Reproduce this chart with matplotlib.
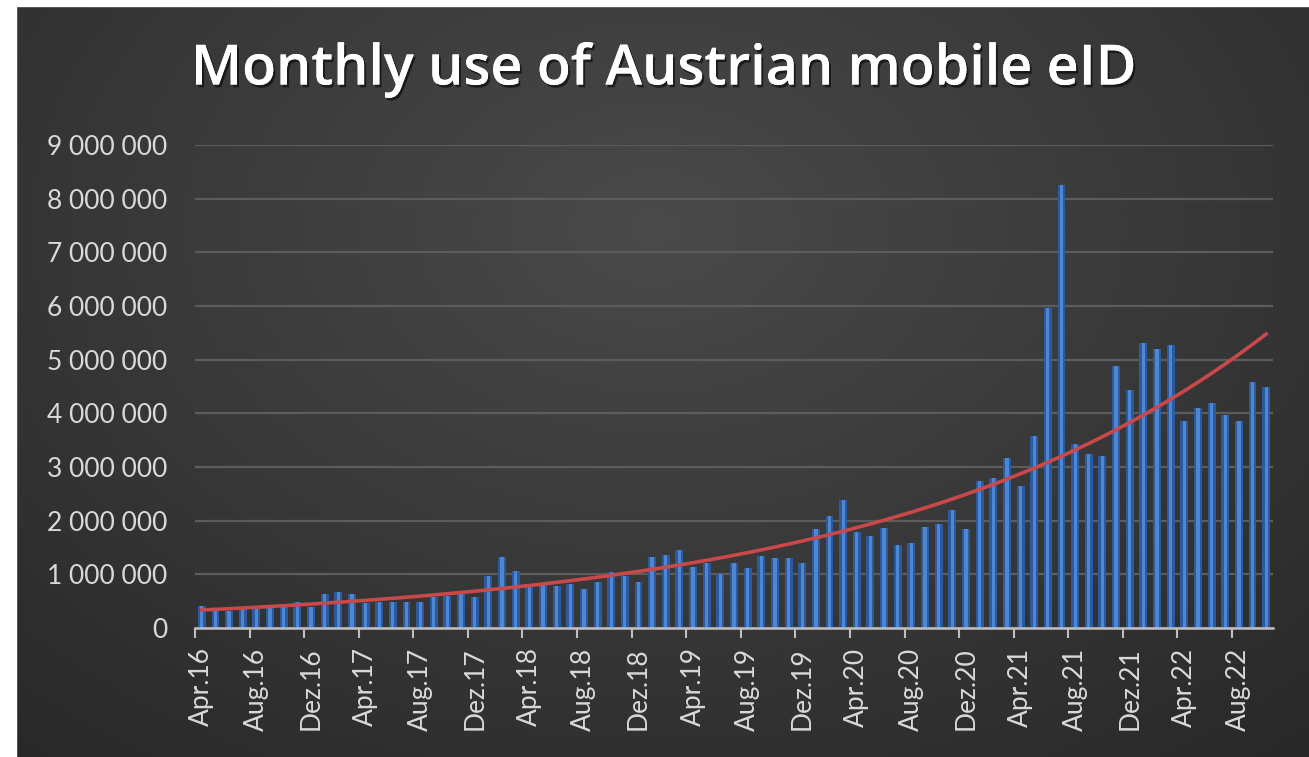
import numpy as np
import matplotlib
matplotlib.use("Agg")
import matplotlib.pyplot as plt
import matplotlib.patheffects as pe
from matplotlib.patches import Rectangle
from matplotlib.ticker import FuncFormatter

# Monthly logins, Apr.16 .. Oct.22
MONTHS = ["Jan", "Feb", "Mär", "Apr", "Mai", "Jun",
          "Jul", "Aug", "Sep", "Okt", "Nov", "Dez"]
START_MONTH = 3   # April
START_YEAR = 16
usage = [
    410000, 320000, 320000, 400000, 350000, 370000, 390000, 490000, 400000,
    630000, 670000, 630000, 460000, 490000, 480000, 480000, 480000, 570000,
    600000, 630000, 570000, 970000, 1330000, 1070000, 770000, 800000, 790000,
    820000, 730000, 850000, 1040000, 960000, 850000, 1330000, 1360000, 1460000,
    1140000, 1210000, 1010000, 1210000, 1110000, 1340000, 1310000, 1300000,
    1220000, 1840000, 2090000, 2390000, 1780000, 1720000, 1870000, 1550000,
    1580000, 1880000, 1930000, 2190000, 1840000, 2730000, 2790000, 3160000,
    2640000, 3570000, 5960000, 8250000, 3430000, 3250000, 3210000, 4890000,
    4430000, 5310000, 5190000, 5280000, 3850000, 4100000, 4190000, 3970000,
    3850000, 4580000, 4490000,
]
y_ticks = [0, 1000000, 2000000, 3000000, 4000000, 5000000,
           6000000, 7000000, 8000000, 9000000]

labels = []
for i in range(len(usage)):
    m = (START_MONTH + i) % 12
    yr = START_YEAR + (START_MONTH + i) // 12
    labels.append(f"{MONTHS[m]}.{yr}")

x = np.arange(len(usage))
vals = np.array(usage, dtype=float)

# exponential trendline (like Excel's)
coef = np.polyfit(x, np.log(vals), 1)
trend = np.exp(np.polyval(coef, x))

W, H = 1309, 757
fig = plt.figure(figsize=(W / 100, H / 100), dpi=100)
fig.patch.set_facecolor("#2a2a2a")

# dark radial background
bg_ax = fig.add_axes([0, 0, 1, 1])
bg_ax.set_axis_off()
gx, gy = np.meshgrid(np.linspace(0, 1, 400), np.linspace(0, 1, 240))
r = np.sqrt(((gx - 0.5) / 0.75) ** 2 + ((gy - 0.3) / 0.9) ** 2)
shade = 0.29 - 0.13 * np.clip(r, 0, 1)
img = np.dstack([shade, shade, shade])
bg_ax.imshow(img, aspect="auto", extent=[0, 1, 0, 1], origin="upper",
             interpolation="bilinear")
bg_ax.set_xlim(0, 1)
bg_ax.set_ylim(0, 1)
# white page margins on the left and top
bg_ax.add_patch(Rectangle((0, 0), 16 / W, 1, color="white", zorder=5))
bg_ax.add_patch(Rectangle((0, 1 - 6 / H), 1, 6 / H, color="white", zorder=5))

ax = fig.add_axes([195 / W, 1 - 628 / H, (1273 - 195) / W, (628 - 145) / H])
ax.set_facecolor("none")

ax.bar(x, vals, width=0.58, color="#2b5aa0", zorder=3)
ax.bar(x, vals, width=0.24, color="#4f86d0", zorder=4)
ax.plot(x, trend, color="#c9484a", lw=2.6, zorder=5)

ax.set_xlim(-0.5, len(usage) - 0.5)
ax.set_ylim(0, 9000000)
ax.set_yticks(y_ticks)
ax.yaxis.set_major_formatter(
    FuncFormatter(lambda v, p: f"{int(v):,}".replace(",", " ")))
ax.grid(axis="y", color="#5c5c5c", lw=1.6, zorder=0)
ax.set_axisbelow(True)

tick_font = dict(family=["Lato", "DejaVu Sans"], size=19)
ax.set_xticks(x[::4])
ax.set_xticklabels(labels[::4], rotation=90, color="#d9d9d9", **tick_font)
ax.set_xticks(np.arange(-0.5, len(usage) - 1, 4), minor=True)
ax.tick_params(axis="x", which="major", length=0, pad=14)
ax.tick_params(axis="x", which="minor", length=7, width=1.5, color="#bfbfbf")
ax.tick_params(axis="y", length=0, pad=20)
for t in ax.get_yticklabels():
    t.set_color("#d9d9d9")
    t.set_fontfamily(["Lato", "DejaVu Sans"])
    t.set_fontsize(19)

for side in ["top", "right", "left"]:
    ax.spines[side].set_visible(False)
ax.spines["bottom"].set_color("#bfbfbf")
ax.spines["bottom"].set_linewidth(1.8)
ax.spines["bottom"].set_zorder(6)

fig.text(0.506, 1 - 70 / H, "Monthly use of Austrian mobile eID",
         ha="center", va="center", color="white", fontsize=40,
         fontweight="semibold", family=["Open Sans", "DejaVu Sans"],
         path_effects=[pe.withSimplePatchShadow(offset=(1.5, -2), alpha=0.55,
                                                shadow_rgbFace="black"),
                       pe.Normal()])

fig.savefig("out.png", dpi=100, facecolor=fig.get_facecolor())
